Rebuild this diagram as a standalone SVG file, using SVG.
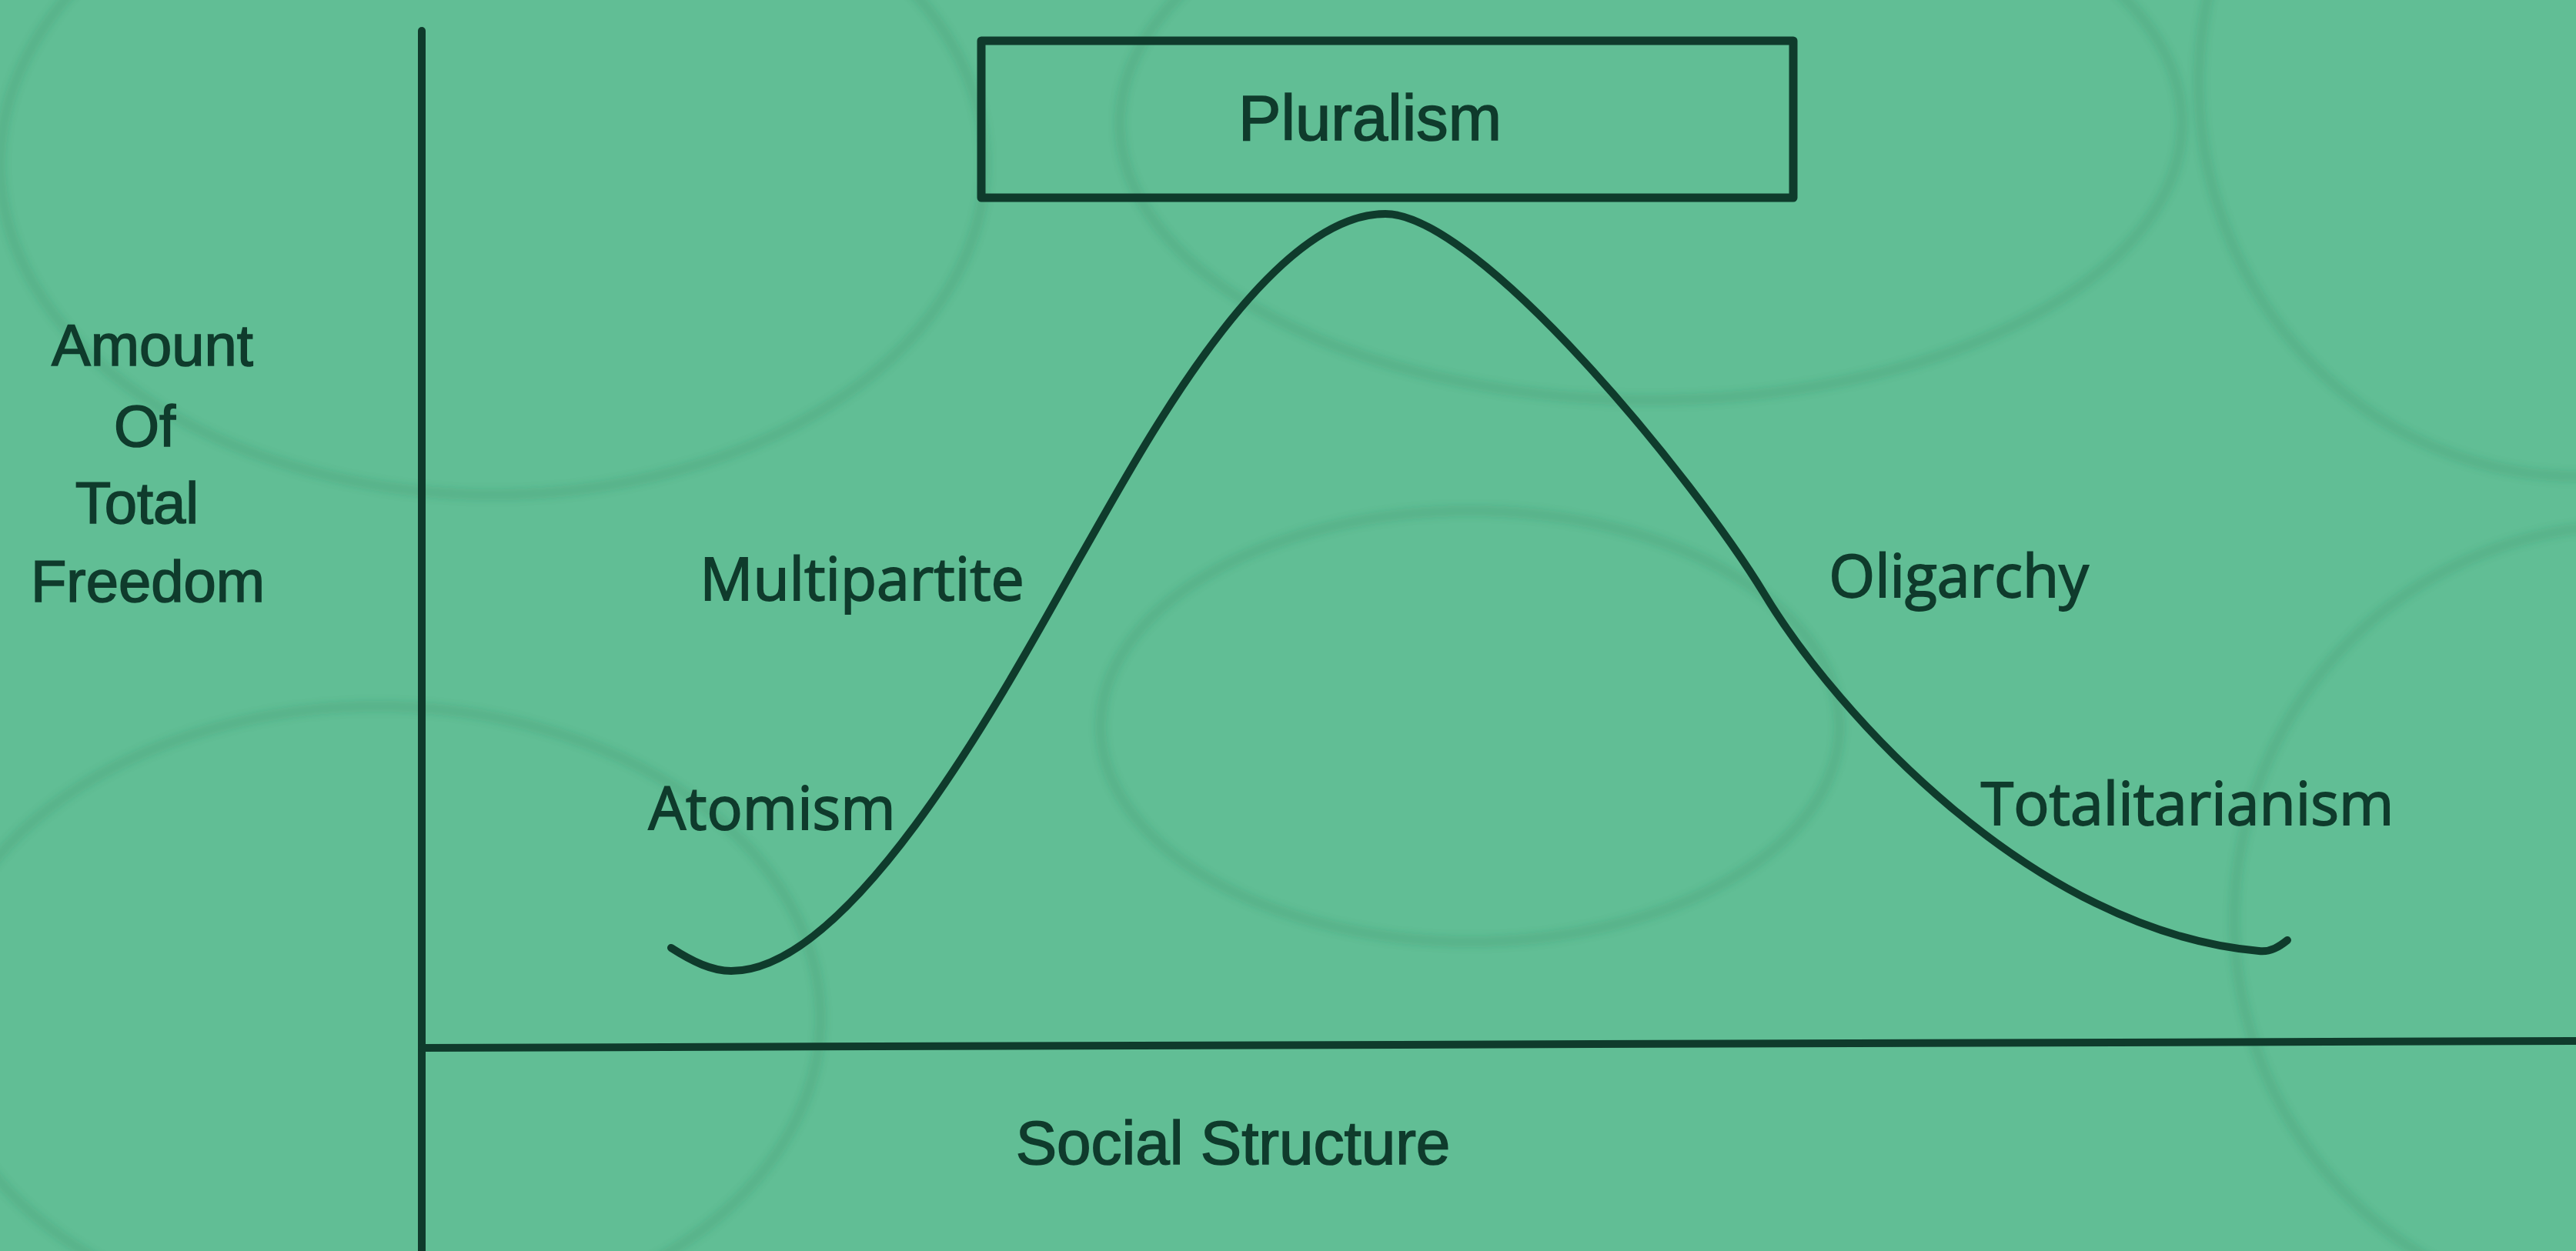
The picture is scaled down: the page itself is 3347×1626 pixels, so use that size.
<svg xmlns="http://www.w3.org/2000/svg" width="3347" height="1626" viewBox="0 0 3347 1626">
  <defs>
    <style>
      .ink { stroke: #0f3b2c; fill: none; stroke-linecap: round; stroke-linejoin: round; }
      .axis { stroke-width: 10; }
      .curve { stroke-width: 10; }
      .box { stroke-width: 11; }
      .sans { font-family: "Liberation Sans", Arial, sans-serif; fill: #0f3b2c; stroke: #0f3b2c; stroke-width: 1.6; text-anchor: middle; }
      .hum { font-family: "Open Sans", "Noto Sans", sans-serif; font-size: 77px; fill: #0f3b2c; stroke: #0f3b2c; stroke-width: 1.8; text-anchor: middle; }
      .ylab { font-size: 76px; }
      .ghost { fill: none; stroke: #2e7f58; stroke-width: 14; opacity: 0.17; }
    </style>
    <filter id="soft" x="-10%" y="-10%" width="120%" height="120%">
      <feGaussianBlur stdDeviation="4"/>
    </filter>
  </defs>

  <rect x="0" y="0" width="3347" height="1626" fill="#61be95"/>

  <g id="print-through" filter="url(#soft)">
    <ellipse class="ghost" cx="2145" cy="160" rx="690" ry="360"/>
    <ellipse class="ghost" cx="1910" cy="944" rx="480" ry="280"/>
    <ellipse class="ghost" cx="640" cy="213" rx="640" ry="430"/>
    <ellipse class="ghost" cx="490" cy="1323" rx="576" ry="405"/>
    <ellipse class="ghost" cx="3347" cy="107" rx="490" ry="512"/>
    <ellipse class="ghost" cx="3415" cy="1195" rx="512" ry="512"/>
  </g>

  <g id="y-axis-label">
    <text class="sans ylab" x="198" y="475">Amount</text>
    <text class="sans ylab" x="188" y="580">Of</text>
    <text class="sans ylab" x="178" y="680">Total</text>
    <text class="sans ylab" x="192" y="782">Freedom</text>
  </g>

  <g id="connectors">
    <line class="ink axis" x1="548" y1="40" x2="548" y2="1626"/>
    <line class="ink axis" x1="548" y1="1362" x2="3347" y2="1353"/>
    <path class="ink curve" d="M872,1232 C900,1250 925,1262 950,1262 C1110,1262 1310,890 1400,730 C1470,610 1640,278 1800,278 C1920,278 2200,620 2293,773 C2385,925 2640,1210 2935,1236 C2950,1238 2962,1230 2972,1222"/>
  </g>

  <g id="node-pluralism">
    <rect class="ink box" x="1275" y="53" width="1055" height="204"/>
    <text class="sans" x="1780" y="182" font-size="84" stroke-width="3" textLength="342" lengthAdjust="spacingAndGlyphs">Pluralism</text>
  </g>

  <g id="label-multipartite">
    <text class="hum" x="1120" y="780">Multipartite</text>
  </g>
  <g id="label-atomism">
    <text class="hum" x="1003" y="1078">Atomism</text>
  </g>
  <g id="label-oligarchy">
    <text class="hum" x="2545" y="776">Oligarchy</text>
  </g>
  <g id="label-totalitarianism">
    <text class="hum" x="2842" y="1072">Totalitarianism</text>
  </g>

  <g id="x-axis-label">
    <text class="sans" x="1602" y="1513" font-size="80">Social Structure</text>
  </g>
</svg>
